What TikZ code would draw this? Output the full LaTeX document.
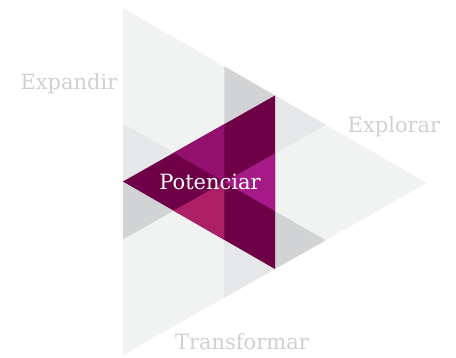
\documentclass[tikz,border=0pt]{standalone}
\usepackage{fontspec}
\setmainfont{DejaVu Serif}
\usetikzlibrary{calc}
\definecolor{bggray}{HTML}{F1F2F2}
\definecolor{midgray}{HTML}{E6E7E8}
\definecolor{darkgray}{HTML}{D1D3D4}
\definecolor{darkmag}{HTML}{6D0047}
\definecolor{purpmag}{HTML}{93106F}
\definecolor{pinkmag}{HTML}{AD1F67}
\definecolor{brightmag}{HTML}{A61A87}
\definecolor{textgray}{HTML}{CFD0D2}
\tikzset{
lbl/.style={text=textgray,anchor=base,inner sep=0pt,font=\fontsize{21}{24}\selectfont},
}
\begin{document}
\begin{tikzpicture}[x=1pt,y=-1pt]
\useasboundingbox (0,0) rectangle (456,357);

%%%% corners
%%%%
\coordinate(t) at(123,8);
\coordinate(b) at(123,355);
\coordinate(r) at(427,183);

\foreach \n/\u/\v/\f in{
l/t/b/.5,u/t/r/.5,d/b/r/.5,c/l/r/.3333,%
l1/t/b/.3333,l2/t/b/.6667,u1/t/r/.3333,u2/t/r/.6667,d1/b/r/.3333,d2/b/r/.6667,%
p1/l/u/.3333,q1/l/u/.6667,p2/l/d/.3333,q2/l/d/.6667,e1/u/d/.3333,e2/u/d/.6667%
}{
\coordinate(\n) at($(\u)!\f!(\v)$);
}

%%%% gray
%%%%
\fill[bggray] (t) -- (b) -- (r) -- cycle;
\foreach \u/\v/\w/\col in{
u1/q1/u/darkgray,u/e1/u2/midgray,%
l1/l/p1/midgray,l/l2/p2/darkgray,%
e2/d/d2/darkgray,q2/d1/d/midgray%
}{
\fill[\col] (\u) -- (\v) -- (\w) -- cycle;
}

%%%% magenta
%%%%
\fill[darkmag] (l) -- (u) -- (d) -- cycle;
\foreach \u/\v/\w/\col in{
p1/q1/c/purpmag,p2/c/q2/pinkmag,c/e1/e2/brightmag%
}{
\fill[\col] (\u) -- (\v) -- (\w) -- cycle;
}

%%%% labels
%%%%
\node[lbl](expandir) at(69,89) {Expandir};
\node[lbl](explorar) at(394,132) {Explorar};
\node[lbl](transformar) at(242,349) {Transformar};
\node[lbl,text=white](potenciar) at(210,189) {Potenciar};

\end{tikzpicture}
\end{document}
